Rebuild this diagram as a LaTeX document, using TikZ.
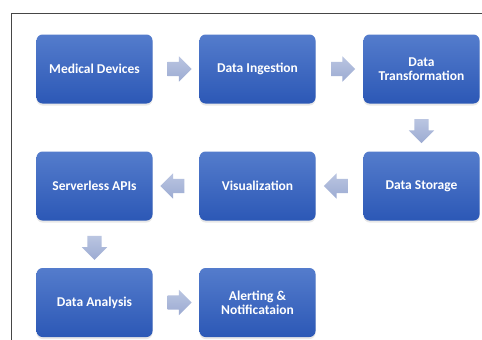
\documentclass[tikz,border=0pt]{standalone}
\usepackage{fontspec}
\setmainfont{Carlito}
\usetikzlibrary{shapes.arrows,calc,shadows}
\definecolor{boxtop}{RGB}{84,124,204}
\definecolor{boxbot}{RGB}{44,88,182}
\definecolor{arrtop}{RGB}{186,197,225}
\definecolor{arrbot}{RGB}{156,171,210}
\definecolor{framegray}{RGB}{70,70,70}
\tikzset{
  stagebox/.style={rectangle, rounded corners=6pt, minimum width=116pt, minimum height=69pt,
    top color=boxtop, bottom color=boxbot, draw=none, text=white,
    font=\fontsize{13.5}{14}\selectfont\bfseries, align=center,
    drop shadow={shadow xshift=0pt, shadow yshift=-2pt, opacity=0.18, fill=gray}},
  flowarrow/.style={single arrow, draw=none, top color=arrtop, bottom color=arrbot,
    inner sep=7pt, minimum height=24pt, single arrow head extend=5.5pt,
    single arrow head indent=0pt},
}
\begin{document}
\begin{tikzpicture}[x=1pt,y=-1pt]
  \useasboundingbox (0,0) rectangle (482,340);
  \fill[white] (0,0) rectangle (482,340);
  % outer frame: top and left edges
  \draw[framegray, line width=0.9pt] (11,340) -- (11,13) -- (482,13);

  % process stages
  \node[stagebox] (md) at (94.5,69)  {Medical Devices};
  \node[stagebox] (di) at (257.5,69) {Data Ingestion};
  \node[stagebox] (dt) at (421.5,69) {Data\\Transformation};
  \node[stagebox] (sa) at (94.5,186)  {Serverless APIs};
  \node[stagebox] (vi) at (257.5,186) {Visualization};
  \node[stagebox] (ds) at (421.5,186) {Data Storage};
  \node[stagebox] (da) at (94.5,302.5)  {Data Analysis};
  \node[stagebox] (an) at (257.5,302.5) {Alerting \&\\Notificataion};

  % block arrows between stages
  \node[flowarrow] (a1) at ($(md.east)!0.5!(di.west)$) {};
  \node[flowarrow] (a2) at ($(di.east)!0.5!(dt.west)$) {};
  \node[flowarrow, shape border rotate=270] (a3) at ($(dt.south)!0.5!(ds.north)$) {};
  \node[flowarrow, shape border rotate=180] (a4) at ($(ds.west)!0.5!(vi.east)$) {};
  \node[flowarrow, shape border rotate=180] (a5) at ($(vi.west)!0.5!(sa.east)$) {};
  \node[flowarrow, shape border rotate=270] (a6) at ($(sa.south)!0.5!(da.north)$) {};
  \node[flowarrow] (a7) at ($(da.east)!0.5!(an.west)$) {};
\end{tikzpicture}
\end{document}
